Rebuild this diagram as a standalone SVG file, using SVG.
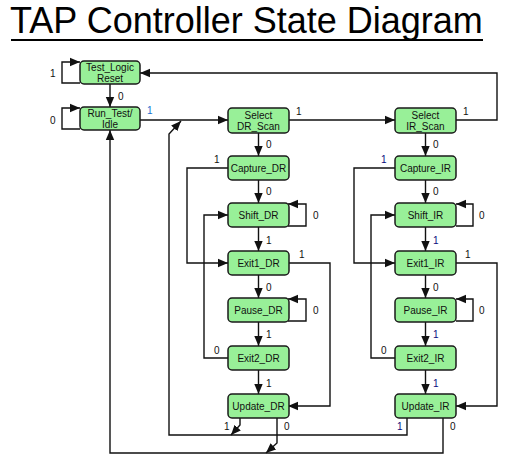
<svg xmlns="http://www.w3.org/2000/svg" width="506" height="464" viewBox="0 0 506 464">
<style>
.n rect{fill:#98F098;stroke:#1a1a1a;stroke-width:1.5}
.n text{font-family:"Liberation Sans",Arial,sans-serif;font-size:10px;fill:#111;text-anchor:middle}
.c path{fill:none;stroke:#111;stroke-width:1.4}
.l{font-family:"Liberation Sans",Arial,sans-serif;font-size:10px;fill:#111}
.b{fill:#0a0a80}
</style>
<defs>
<marker id="a" markerUnits="userSpaceOnUse" markerWidth="10" markerHeight="10" viewBox="0 0 10 10" refX="10" refY="5" orient="auto">
<path d="M0,0.8 L10,5 L0,9.2 Z" fill="#111"/>
</marker>
</defs>
<rect width="506" height="464" fill="#fff"/>
<text x="10" y="33" font-family="'Liberation Sans',Arial,sans-serif" font-size="36" fill="#000">TAP Controller State Diagram</text>
<rect x="11" y="39" width="472" height="2" fill="#000"/>

<g class="c">
<path d="M80,83 H62 V62 H80" marker-end="url(#a)"/>
<path d="M80,129 H62 V108 H80" marker-end="url(#a)"/>
<path d="M110,84 V107" marker-end="url(#a)"/>
<path d="M140,120 H228" marker-end="url(#a)"/>
<path d="M289,120 H395" marker-end="url(#a)"/>
<path d="M456,120 H497 V73 H140" marker-end="url(#a)"/>
<path d="M258.5,133 V156" marker-end="url(#a)"/>
<path d="M425.5,133 V156" marker-end="url(#a)"/>
<path d="M258.5,180 V203" marker-end="url(#a)"/>
<path d="M425.5,180 V203" marker-end="url(#a)"/>
<path d="M258.5,227 V251" marker-end="url(#a)"/>
<path d="M425.5,227 V251" marker-end="url(#a)"/>
<path d="M258.5,275 V298" marker-end="url(#a)"/>
<path d="M425.5,275 V298" marker-end="url(#a)"/>
<path d="M258.5,322 V346" marker-end="url(#a)"/>
<path d="M425.5,322 V346" marker-end="url(#a)"/>
<path d="M258.5,370 V394" marker-end="url(#a)"/>
<path d="M425.5,370 V394" marker-end="url(#a)"/>
<path d="M228,168 H187 V263 H228" marker-end="url(#a)"/>
<path d="M395,168 H354 V263 H395" marker-end="url(#a)"/>
<path d="M228,358 H204 V215 H228" marker-end="url(#a)"/>
<path d="M395,358 H371 V215 H395" marker-end="url(#a)"/>
<path d="M288,226 H306 V204 H288" marker-end="url(#a)"/>
<path d="M456,226 H473 V204 H456" marker-end="url(#a)"/>
<path d="M288,321 H306 V299 H288" marker-end="url(#a)"/>
<path d="M456,321 H473 V299 H456" marker-end="url(#a)"/>
<path d="M288,263 H330 V406 H288" marker-end="url(#a)"/>
<path d="M456,263 H497 V406 H456" marker-end="url(#a)"/>
<path d="M407,418 V435 H169 V134 L181,121" marker-end="url(#a)"/>
<path d="M240,418 V425 L231,435" marker-end="url(#a)"/>
<path d="M443,418 V453 H110 V130" marker-end="url(#a)"/>
<path d="M277,418 V443 L266,453" marker-end="url(#a)"/>
</g>

<g id="test_logic_reset" class="n"><rect x="80" y="61" width="60" height="23" rx="4"/><text x="110" y="71">Test_Logic</text><text x="110" y="81.5">Reset</text></g>
<g id="run_test_idle" class="n"><rect x="80" y="107" width="60" height="23" rx="4"/><text x="110" y="117">Run_Test/</text><text x="110" y="127.5">Idle</text></g>
<g id="select_dr_scan" class="n"><rect x="228" y="108" width="61" height="25" rx="4"/><text x="258.5" y="119">Select</text><text x="258.5" y="130">DR_Scan</text></g>
<g id="select_ir_scan" class="n"><rect x="395" y="108" width="61" height="25" rx="4"/><text x="425.5" y="119">Select</text><text x="425.5" y="130">IR_Scan</text></g>
<g id="capture_dr" class="n"><rect x="228" y="156" width="61" height="24" rx="4"/><text x="258.5" y="171.5">Capture_DR</text></g>
<g id="capture_ir" class="n"><rect x="395" y="156" width="61" height="24" rx="4"/><text x="425.5" y="171.5">Capture_IR</text></g>
<g id="shift_dr" class="n"><rect x="228" y="203" width="61" height="24" rx="4"/><text x="258.5" y="218.5">Shift_DR</text></g>
<g id="shift_ir" class="n"><rect x="395" y="203" width="61" height="24" rx="4"/><text x="425.5" y="218.5">Shift_IR</text></g>
<g id="exit1_dr" class="n"><rect x="228" y="251" width="61" height="24" rx="4"/><text x="258.5" y="266.5">Exit1_DR</text></g>
<g id="exit1_ir" class="n"><rect x="395" y="251" width="61" height="24" rx="4"/><text x="425.5" y="266.5">Exit1_IR</text></g>
<g id="pause_dr" class="n"><rect x="228" y="298" width="61" height="24" rx="4"/><text x="258.5" y="313.5">Pause_DR</text></g>
<g id="pause_ir" class="n"><rect x="395" y="298" width="61" height="24" rx="4"/><text x="425.5" y="313.5">Pause_IR</text></g>
<g id="exit2_dr" class="n"><rect x="228" y="346" width="61" height="24" rx="4"/><text x="258.5" y="361.5">Exit2_DR</text></g>
<g id="exit2_ir" class="n"><rect x="395" y="346" width="61" height="24" rx="4"/><text x="425.5" y="361.5">Exit2_IR</text></g>
<g id="update_dr" class="n"><rect x="228" y="394" width="61" height="24" rx="4"/><text x="258.5" y="409.5">Update_DR</text></g>
<g id="update_ir" class="n"><rect x="395" y="394" width="61" height="24" rx="4"/><text x="425.5" y="409.5">Update_IR</text></g>

<g id="labels">
<text class="l" x="50" y="77">1</text>
<text class="l" x="50" y="124">0</text>
<text class="l" x="118" y="100">0</text>
<text class="l" x="147" y="114" fill="#2070d0" style="fill:#2070d0">1</text>
<text class="l" x="296" y="115">1</text>
<text class="l" x="463" y="115">1</text>
<text class="l" x="266" y="148">0</text>
<text class="l" x="433" y="148">0</text>
<text class="l" x="214" y="163">1</text>
<text class="l b" x="381" y="163">1</text>
<text class="l" x="266" y="195">0</text>
<text class="l" x="433" y="195">0</text>
<text class="l" x="313" y="219">0</text>
<text class="l" x="479" y="219">0</text>
<text class="l" x="266" y="244">1</text>
<text class="l b" x="433" y="244">1</text>
<text class="l" x="299" y="258">1</text>
<text class="l" x="465" y="258">1</text>
<text class="l" x="266" y="291">0</text>
<text class="l" x="433" y="291">0</text>
<text class="l" x="313" y="314">0</text>
<text class="l" x="479" y="314">0</text>
<text class="l" x="266" y="338">1</text>
<text class="l b" x="433" y="338">1</text>
<text class="l" x="214" y="354">0</text>
<text class="l" x="381" y="354">0</text>
<text class="l" x="266" y="387">1</text>
<text class="l b" x="433" y="387">1</text>
<text class="l" x="224" y="430">1</text>
<text class="l" x="284" y="430">0</text>
<text class="l b" x="397" y="430">1</text>
<text class="l" x="450" y="430">0</text>
</g>
</svg>
